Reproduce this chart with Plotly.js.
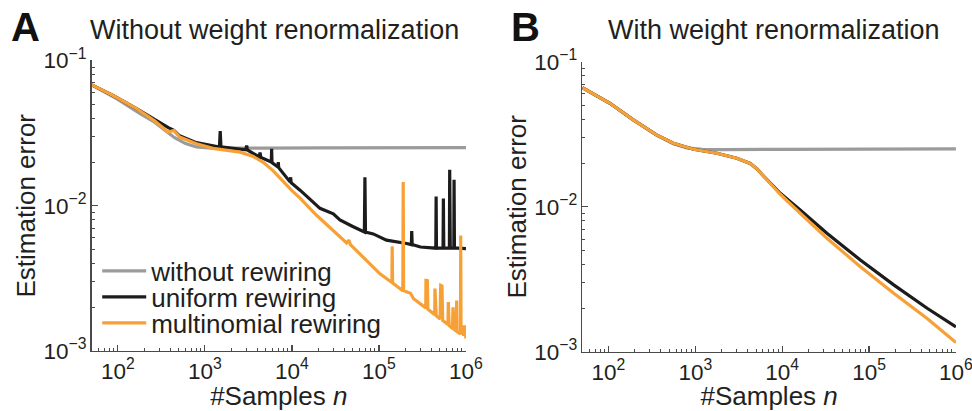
<!DOCTYPE html>
<html>
<head>
<meta charset="utf-8">
<script src="https://cdn.plot.ly/plotly-3.0.1.min.js"></script>
<style>html,body{margin:0;padding:0;background:#fff;} #chart{width:972px;height:411px;}</style>
</head>
<body>
<div id="chart"></div>
<script>
// ---------- Data ----------
const seriesNames = ["without rewiring", "uniform rewiring", "multinomial rewiring"];

// Panel A: without weight renormalization
const nA_without   = [50, 100, 180, 264, 350, 449, 600, 800, 1200, 2000, 5000, 20000, 100000, 1000000];
const errA_without = [0.068, 0.054, 0.0431, 0.0376, 0.0330, 0.0294, 0.0268, 0.0254, 0.0249, 0.0248, 0.0249, 0.0250, 0.0251, 0.0251];

const nA_uniform   = [50, 88, 164, 264, 344, 380, 440, 513, 800, 1290, 1470, 1500, 1530, 2000, 2950, 3020, 3080, 4200, 4300, 4400, 5130, 5800, 5850, 5900, 6900, 6970, 7050, 8000, 9500, 9660, 9800, 12400, 21000, 29900, 35600, 50000, 68000, 69000, 70000, 86000, 122000, 208000, 236000, 238000, 241000, 300000, 450000, 454000, 458000, 545000, 550000, 556000, 645000, 650000, 660000, 725000, 730000, 737000, 800000, 1000000];
const errA_uniform = [0.068, 0.0574, 0.0466, 0.0390, 0.0357, 0.0345, 0.0330, 0.0303, 0.0272, 0.0256, 0.0254, 0.0326, 0.0254, 0.0249, 0.0243, 0.0260, 0.0242, 0.0217, 0.0232, 0.0215, 0.0207, 0.0200, 0.0247, 0.0198, 0.0185, 0.0200, 0.0183, 0.0165, 0.0146, 0.0157, 0.0144, 0.0128, 0.0096, 0.0088, 0.0080, 0.0072, 0.0066, 0.0157, 0.0066, 0.0064, 0.0058, 0.0055, 0.0054, 0.0067, 0.0054, 0.0052, 0.0051, 0.0116, 0.0051, 0.0051, 0.0112, 0.0051, 0.0051, 0.0177, 0.0051, 0.0051, 0.0151, 0.0051, 0.0051, 0.00506];

const nA_multi   = [50, 88, 164, 264, 376, 440, 513, 800, 1290, 2530, 3600, 4690, 6100, 8000, 10000, 12400, 19200, 42500, 45000, 47000, 102800, 141000, 142000, 143500, 188000, 190000, 192000, 230000, 250000, 345000, 347000, 360000, 365000, 438000, 440000, 455000, 505000, 512000, 530000, 540000, 620000, 627000, 640000, 700000, 710000, 730000, 775000, 782000, 790000, 865000, 870000, 878000, 920000, 940000, 960000, 1000000];
const errA_multi = [0.068, 0.0574, 0.0466, 0.0385, 0.0322, 0.0330, 0.0297, 0.0267, 0.0247, 0.0234, 0.0218, 0.0199, 0.0174, 0.0146, 0.0127, 0.0113, 0.0086, 0.00555, 0.0058, 0.0054, 0.0034, 0.00296, 0.00525, 0.00294, 0.0026, 0.01455, 0.0026, 0.0025, 0.00229, 0.00198, 0.00306, 0.00305, 0.00194, 0.00178, 0.00269, 0.00175, 0.00166, 0.00283, 0.00280, 0.00162, 0.00152, 0.00217, 0.00150, 0.00143, 0.00200, 0.00141, 0.00137, 0.00223, 0.00136, 0.00131, 0.00625, 0.00130, 0.00150, 0.00127, 0.00150, 0.00122];

// Panel B: with weight renormalization
const nB_without   = [50, 104, 193, 360, 559, 800, 1200, 2000, 10000, 100000, 1000000];
const errB_without = [0.0662, 0.0517, 0.0397, 0.0312, 0.0272, 0.0255, 0.0249, 0.0248, 0.0249, 0.0250, 0.0251];

const nB_uniform   = [50, 104, 193, 360, 559, 950, 1770, 3000, 4280, 5100, 6090, 7500, 9490, 16100, 32700, 79300, 192000, 466000, 1000000];
const errB_uniform = [0.0662, 0.0517, 0.0397, 0.0312, 0.0274, 0.0249, 0.0234, 0.0216, 0.0199, 0.0183, 0.0163, 0.0143, 0.0124, 0.0095, 0.00658, 0.0043, 0.0029, 0.0020, 0.00149];

const nB_multi   = [50, 104, 193, 360, 559, 950, 1770, 3000, 4280, 5100, 6090, 7500, 9490, 16100, 32700, 79300, 192000, 466000, 1000000];
const errB_multi = [0.0662, 0.0517, 0.0397, 0.0312, 0.0274, 0.0249, 0.0234, 0.0216, 0.0199, 0.0183, 0.0163, 0.0142, 0.0122, 0.00903, 0.00607, 0.00387, 0.00254, 0.0017, 0.00116];

// ---------- Styling ----------
const colors = ["#9b9b9b", "#1c1c1c", "#f7a035"];
const FONT = "Liberation Sans, Arial, Helvetica, sans-serif";
const TXT = "#231f20";
const legendIds = ["legend", "legend2", "legend3"];

function tr(x, y, i, xa, ya, show) {
  return {x: x, y: y, type: "scatter", mode: "lines", name: seriesNames[i],
          xaxis: xa, yaxis: ya, showlegend: show, legend: legendIds[i],
          line: {color: colors[i], width: 3.2}};
}

const data = [
  tr(nA_without, errA_without, 0, "x", "y", true),
  tr(nA_uniform, errA_uniform, 1, "x", "y", true),
  tr(nA_multi, errA_multi, 2, "x", "y", true),
  tr(nB_without, errB_without, 0, "x2", "y2", false),
  tr(nB_uniform, errB_uniform, 1, "x2", "y2", false),
  tr(nB_multi, errB_multi, 2, "x2", "y2", false)
];

function xax(domain, anchor) {
  return {type: "log", domain: domain, anchor: anchor, range: [Math.log10(50), 6],
    showline: true, linecolor: "#4a4a4a", linewidth: 1.5, mirror: false,
    showgrid: false, zeroline: false, ticks: "inside", ticklen: 6, tickwidth: 1.2, tickcolor: "#4a4a4a",
    dtick: 1, exponentformat: "power", showexponent: "all", ticklabeloverflow: "allow",
    minor: {ticks: "inside", ticklen: 3, tickwidth: 1, tickcolor: "#4a4a4a", dtick: "D1", showgrid: false},
    tickfont: {family: FONT, size: 18, color: TXT},
    title: {text: "#Samples <i>n</i>", font: {family: FONT, size: 26, color: TXT}, standoff: 2},
    automargin: false, fixedrange: true};
}
function yax(domain, anchor) {
  return {type: "log", domain: domain, anchor: anchor, range: [-3, -1],
    showline: true, linecolor: "#4a4a4a", linewidth: 1.5, mirror: false,
    showgrid: false, zeroline: false, ticks: "inside", ticklen: 6, tickwidth: 1.2, tickcolor: "#4a4a4a",
    dtick: 1, exponentformat: "power", showexponent: "all", ticklabeloverflow: "allow",
    minor: {ticks: "inside", ticklen: 3, tickwidth: 1, tickcolor: "#4a4a4a", dtick: "D1", showgrid: false},
    tickfont: {family: FONT, size: 18, color: TXT},
    title: {text: "Estimation error", font: {family: FONT, size: 26, color: TXT}, standoff: 0},
    automargin: false, fixedrange: true};
}

function leg(yc) {
  return {x: 0.1, xanchor: "left", y: yc, yanchor: "middle",
          bgcolor: "rgba(0,0,0,0)", borderwidth: 0,
          font: {family: FONT, size: 26, color: TXT}, itemwidth: 44};
}

const layout = {
  width: 972, height: 411,
  margin: {l: 0, r: 0, t: 0, b: 0},
  paper_bgcolor: "#fff", plot_bgcolor: "rgba(0,0,0,0)",
  font: {family: FONT, color: TXT},
  xaxis: xax([0.0943, 0.4794], "y"),
  yaxis: yax([0.1460, 0.8528], "x"),
  xaxis2: xax([0.5991, 0.9835], "y2"),
  yaxis2: yax([0.1436, 0.8500], "x2"),
  showlegend: true,
  legend: leg(0.3406),
  legend2: leg(0.2774),
  legend3: leg(0.2141),
  annotations: [
    {text: "<b>A</b>", x: 0.0267, y: 0.934, xref: "paper", yref: "paper", xanchor: "center", yanchor: "middle", showarrow: false, font: {family: FONT, size: 40, color: "#111"}},
    {text: "<b>B</b>", x: 0.541, y: 0.934, xref: "paper", yref: "paper", xanchor: "center", yanchor: "middle", showarrow: false, font: {family: FONT, size: 40, color: "#111"}},
    {text: "Without weight renormalization", x: 0.2829, y: 0.927, xref: "paper", yref: "paper", xanchor: "center", yanchor: "middle", showarrow: false, font: {family: FONT, size: 27, color: TXT}},
    {text: "With weight renormalization", x: 0.7968, y: 0.927, xref: "paper", yref: "paper", xanchor: "center", yanchor: "middle", showarrow: false, font: {family: FONT, size: 27, color: TXT}}
  ]
};

Plotly.newPlot("chart", data, layout, {staticPlot: true, displayModeBar: false});
</script>
</body>
</html>
